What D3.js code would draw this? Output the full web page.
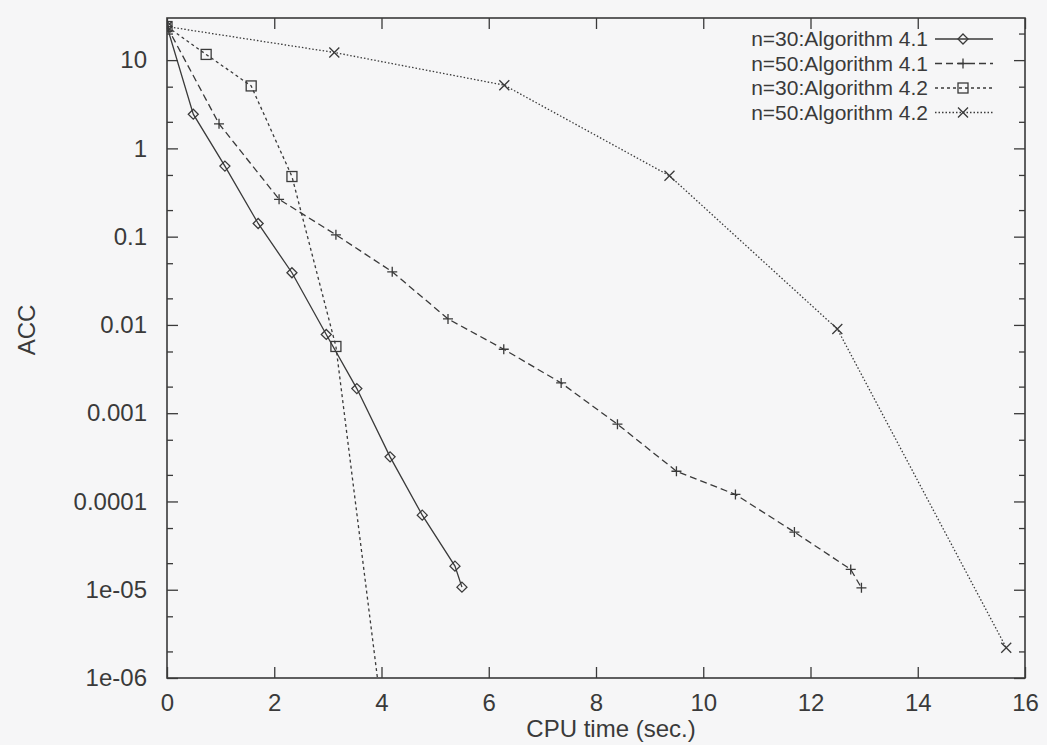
<!DOCTYPE html>
<html lang="en">
<head>
<meta charset="UTF-8">
<title>ACC vs CPU time</title>
<script src="https://d3js.org/d3.v7.min.js"></script>
<style>
  html, body { margin: 0; padding: 0; background: #f6f6f7; }
  text { font-family: "Liberation Sans", Arial, sans-serif; fill: #3a3a3a; }
</style>
</head>
<body>
<div id="chart"></div>
<script>
// data (CPU time in sec., ACC)
const seriesNames = ["n=30:Algorithm 4.1", "n=50:Algorithm 4.1", "n=30:Algorithm 4.2", "n=50:Algorithm 4.2"];
const a41n30Time = [0, 0.49, 1.08, 1.70, 2.33, 2.97, 3.54, 4.16, 4.76, 5.37, 5.50];
const a41n30Acc  = [24, 2.44, 0.63, 0.141, 0.039, 0.0078, 0.0019, 0.00032, 7.0e-5, 1.85e-5, 1.07e-5];
const a41n50Time = [0, 0.97, 2.09, 3.15, 4.20, 5.24, 6.28, 7.35, 8.40, 9.50, 10.60, 11.70, 12.75, 12.95];
const a41n50Acc  = [24, 1.9, 0.265, 0.105, 0.040, 0.0117, 0.0053, 0.0022, 0.00075, 0.00022, 0.00012, 4.5e-5, 1.7e-5, 1.05e-5];
const a42n30Time = [0, 0.73, 1.57, 2.33, 3.15, 3.97];
const a42n30Acc  = [24, 11.6, 5.1, 0.48, 0.0057, 6e-7];
const a42n50Time = [0, 3.12, 6.29, 9.37, 12.5, 15.65];
const a42n50Acc  = [24, 12.2, 5.2, 0.49, 0.009, 2.2e-6];
const xTicks = [0, 2, 4, 6, 8, 10, 12, 14, 16];
const yTicks = [10, 1, 0.1, 0.01, 0.001, 0.0001, 1e-5, 1e-6];
const yTickLabels = ["10", "1", "0.1", "0.01", "0.001", "0.0001", "1e-05", "1e-06"];

const W = 1047, H = 745;
const margin = {top: 18, right: 22, bottom: 67, left: 167};
const width = W - margin.left - margin.right;
const height = H - margin.top - margin.bottom;
const ink = "#3a3a3a";
const fontSize = "24px";

const svg = d3.select("#chart").append("svg")
    .attr("width", W).attr("height", H);
svg.append("rect").attr("width", W).attr("height", H).attr("fill", "#f6f6f7");

const g = svg.append("g").attr("transform", "translate(" + margin.left + "," + margin.top + ")");

const x = d3.scaleLinear().domain([0, 16]).range([0, width]);
const y = d3.scaleLog().domain([1e-6, 30]).range([height, 0]);

g.append("clipPath").attr("id", "plotclip")
  .append("rect").attr("width", width).attr("height", height);

// minor ticks at 2 and 5 of every decade
const minorY = [];
for (let e = -6; e <= 1; e++) {
  [2, 5].forEach(m => { const v = m * Math.pow(10, e); if (v < 30) minorY.push(v); });
}

// axes, ticks drawn inward and mirrored
const axisStyle = sel => {
  sel.select(".domain").remove();
  sel.selectAll("line").attr("stroke", ink).attr("stroke-width", 1.3);
  sel.selectAll("text").style("font-size", fontSize).attr("fill", ink);
};

g.append("g").attr("transform", "translate(0," + height + ")")
  .call(d3.axisBottom(x).tickValues(xTicks).tickSize(-11).tickPadding(16).tickFormat(d3.format("d")))
  .call(axisStyle);
g.append("g")
  .call(d3.axisTop(x).tickValues(xTicks).tickSize(-11).tickFormat(""))
  .call(axisStyle);
g.append("g")
  .call(d3.axisLeft(y).tickValues(yTicks).tickSize(-11).tickPadding(20).tickFormat((d, i) => yTickLabels[i]))
  .call(axisStyle);
g.append("g")
  .call(d3.axisLeft(y).tickValues(minorY).tickSize(-6).tickFormat(""))
  .call(axisStyle);
g.append("g").attr("transform", "translate(" + width + ",0)")
  .call(d3.axisRight(y).tickValues(yTicks).tickSize(-11).tickFormat(""))
  .call(axisStyle);
g.append("g").attr("transform", "translate(" + width + ",0)")
  .call(d3.axisRight(y).tickValues(minorY).tickSize(-6).tickFormat(""))
  .call(axisStyle);

g.append("rect").attr("width", width).attr("height", height)
  .attr("fill", "none").attr("stroke", ink).attr("stroke-width", 1.6);

// axis titles
svg.append("text").attr("x", 611).attr("y", 737)
  .attr("text-anchor", "middle").style("font-size", fontSize).text("CPU time (sec.)");
svg.append("text").attr("transform", "translate(35,330) rotate(-90)")
  .attr("text-anchor", "middle").style("font-size", fontSize).text("ACC");

// series
const series = [
  {name: seriesNames[0], t: a41n30Time, v: a41n30Acc, dash: null, marker: "diamond"},
  {name: seriesNames[1], t: a41n50Time, v: a41n50Acc, dash: "7,4", marker: "plus"},
  {name: seriesNames[2], t: a42n30Time, v: a42n30Acc, dash: "3,3", marker: "square"},
  {name: seriesNames[3], t: a42n50Time, v: a42n50Acc, dash: "1.5,2", marker: "cross"}
];

function drawMarker(sel, kind) {
  const s = 5;
  if (kind === "diamond") {
    sel.append("path").attr("d", `M0,${-s}L${s},0L0,${s}L${-s},0Z`)
      .attr("fill", "none").attr("stroke", ink).attr("stroke-width", 1.3);
  } else if (kind === "plus") {
    sel.append("path").attr("d", `M${-s},0H${s}M0,${-s}V${s}`)
      .attr("stroke", ink).attr("stroke-width", 1.3);
  } else if (kind === "square") {
    sel.append("rect").attr("x", -s).attr("y", -s).attr("width", 2 * s).attr("height", 2 * s)
      .attr("fill", "none").attr("stroke", ink).attr("stroke-width", 1.3);
  } else {
    sel.append("path").attr("d", `M${-s},${-s}L${s},${s}M${-s},${s}L${s},${-s}`)
      .attr("stroke", ink).attr("stroke-width", 1.3);
  }
}

const plot = g.append("g").attr("clip-path", "url(#plotclip)");
const line = d3.line().x(d => x(d[0])).y(d => y(d[1]));

series.forEach(s => {
  const pts = s.t.map((t, i) => [t, s.v[i]]);
  plot.append("path").datum(pts)
    .attr("d", line)
    .attr("fill", "none").attr("stroke", ink).attr("stroke-width", 1.3)
    .attr("stroke-dasharray", s.dash);
  pts.filter(p => p[1] >= 1e-6).forEach(p => {
    const m = plot.append("g").attr("transform", `translate(${x(p[0])},${y(p[1])})`);
    drawMarker(m, s.marker);
  });
});

// legend
const legend = svg.append("g");
series.forEach((s, i) => {
  const ly = 39 + i * 24.5;
  legend.append("text").attr("x", 928).attr("y", ly).attr("dy", "0.35em")
    .attr("text-anchor", "end").style("font-size", "21px").text(s.name);
  legend.append("line").attr("x1", 935).attr("x2", 993).attr("y1", ly).attr("y2", ly)
    .attr("stroke", ink).attr("stroke-width", 1.3).attr("stroke-dasharray", s.dash);
  const m = legend.append("g").attr("transform", `translate(963,${ly})`);
  drawMarker(m, s.marker);
});
</script>
</body>
</html>
